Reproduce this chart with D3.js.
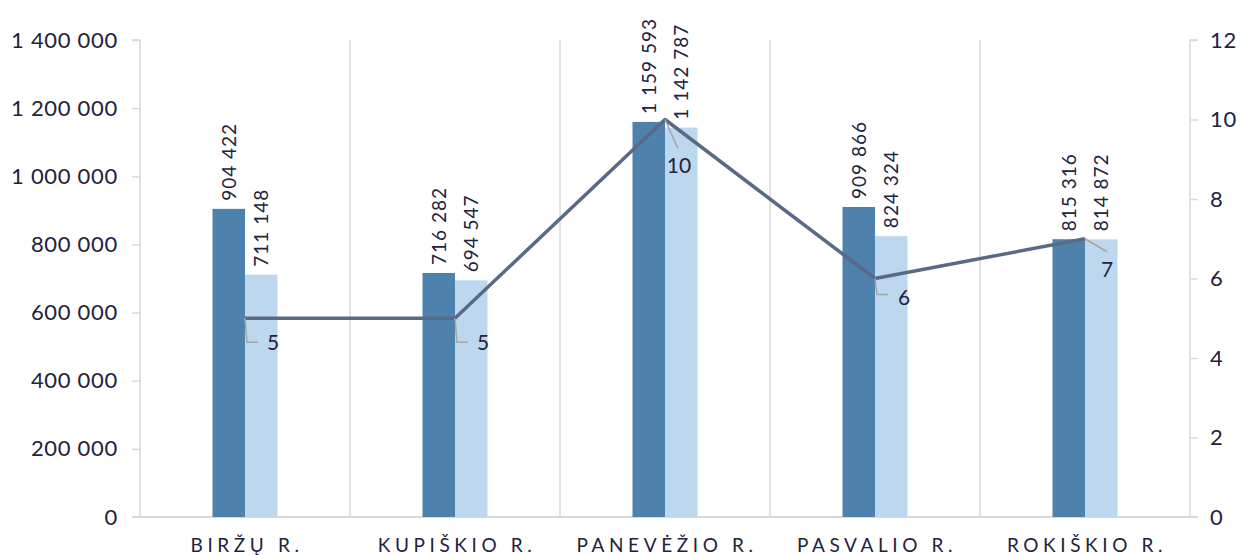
<!DOCTYPE html>
<html>
<head>
<meta charset="utf-8">
<script src="https://cdn.jsdelivr.net/npm/d3@7"></script>
<style>
  body { margin: 0; background: #fff; }
  text { font-family: Lato, "Open Sans", sans-serif; font-weight: 400; fill: #22223d; }
</style>
</head>
<body>
<svg></svg>
<script>
// data
const categories = ["BIRŽŲ R.", "KUPIŠKIO R.", "PANEVĖŽIO R.", "PASVALIO R.", "ROKIŠKIO R."];
const seriesA = [904422, 716282, 1159593, 909866, 815316];
const seriesB = [711148, 694547, 1142787, 824324, 814872];
const lineValues = [5, 5, 10, 6, 7];
const leftTicks = [0, 200000, 400000, 600000, 800000, 1000000, 1200000, 1400000];
const rightTicks = [0, 2, 4, 6, 8, 10, 12];

// placement of the line labels and their leader lines (relative to the point)
const lineLabelLayout = [
    { leader: [[0, 0], [2, 24], [13, 24]], dx: 22, dy: 24, anchor: "start" },
    { leader: [[0, 0], [2, 24], [13, 24]], dx: 22, dy: 24, anchor: "start" },
    { leader: [[0, 0], [13, 29]], dx: 14, dy: 46, anchor: "middle" },
    { leader: [[0, 0], [2, 16], [13, 16]], dx: 23, dy: 19, anchor: "start" },
    { leader: [[0, 0], [22, 13]], dx: 22, dy: 31, anchor: "middle" }
];

const width = 1243, height = 555;
const plotLeft = 140, plotRight = 1190, plotTop = 40, plotBottom = 517;

const svg = d3.select("svg")
    .attr("width", width)
    .attr("height", height);

const x0 = d3.scaleBand()
    .domain(categories)
    .range([plotLeft, plotRight]);

const x1 = d3.scaleBand()
    .domain(["a", "b"])
    .range([0, x0.bandwidth()])
    .paddingOuter(2.23);

const y = d3.scaleLinear().domain([0, 1400000]).range([plotBottom, plotTop]);
const y2 = d3.scaleLinear().domain([0, 12]).range([plotBottom, plotTop]);

const fmt = v => d3.format(",")(v).replace(/,/g, " ");

// vertical grid lines between categories
svg.append("g")
    .selectAll("line")
    .data(categories.slice(1))
    .join("line")
    .attr("x1", d => x0(d))
    .attr("x2", d => x0(d))
    .attr("y1", plotTop)
    .attr("y2", plotBottom)
    .attr("stroke", "#d9d9d9")
    .attr("stroke-width", 1.5);

// left axis
const axL = svg.append("g")
    .attr("transform", `translate(${plotLeft},0)`)
    .call(d3.axisLeft(y).tickValues(leftTicks).tickFormat(fmt).tickSize(8).tickPadding(14));
axL.select(".domain").attr("stroke", "#d9d9d9").attr("stroke-width", 1.5).attr("d", `M-8,${plotTop}H0V${plotBottom}H-8`);
axL.selectAll(".tick line").attr("stroke", "#d9d9d9").attr("stroke-width", 1.5);
axL.selectAll(".tick text")
    .style("font-size", "22px")
    .style("letter-spacing", "0.7px")
    .attr("fill", "#22223d");

// right axis
const axR = svg.append("g")
    .attr("transform", `translate(${plotRight},0)`)
    .call(d3.axisRight(y2).tickValues(rightTicks).tickSize(8).tickPadding(12));
axR.select(".domain").attr("stroke", "#d9d9d9").attr("stroke-width", 1.5).attr("d", `M8,${plotTop}H0V${plotBottom}H8`);
axR.selectAll(".tick line").attr("stroke", "#d9d9d9").attr("stroke-width", 1.5);
axR.selectAll(".tick text")
    .style("font-size", "22px")
    .style("letter-spacing", "0.7px")
    .attr("fill", "#22223d");

// bottom axis line
svg.append("line")
    .attr("x1", plotLeft - 8)
    .attr("x2", plotRight + 8)
    .attr("y1", plotBottom)
    .attr("y2", plotBottom)
    .attr("stroke", "#d9d9d9")
    .attr("stroke-width", 2);

// category labels
svg.append("g")
    .selectAll("text")
    .data(categories)
    .join("text")
    .attr("x", d => x0(d) + x0.bandwidth() / 2 + 2)
    .attr("y", 552)
    .attr("text-anchor", "middle")
    .style("font-size", "19px")
    .style("letter-spacing", "4.6px")
    .text(d => d);

// bars
const barData = [];
categories.forEach(function(c, i) {
    barData.push({ cat: c, key: "a", value: seriesA[i] });
    barData.push({ cat: c, key: "b", value: seriesB[i] });
});

svg.append("g")
    .selectAll("rect")
    .data(barData)
    .join("rect")
    .attr("x", d => x0(d.cat) + x1(d.key))
    .attr("width", x1.bandwidth())
    .attr("y", d => y(d.value))
    .attr("height", d => plotBottom - y(d.value))
    .attr("fill", d => d.key === "a" ? "#4f81ad" : "#bdd7ee");

// bar value labels, rotated
svg.append("g")
    .selectAll("text")
    .data(barData)
    .join("text")
    .attr("transform", function(d) {
        const cx = x0(d.cat) + x1(d.key) + x1.bandwidth() / 2 + 7;
        return `translate(${cx},${y(d.value) - 8}) rotate(-90)`;
    })
    .attr("text-anchor", "start")
    .style("font-size", "19px")
    .style("letter-spacing", "1px")
    .text(d => fmt(d.value));

// line series
const pts = lineValues.map((v, i) => [x0(categories[i]) + x0.bandwidth() / 2, y2(v)]);

svg.append("path")
    .datum(pts)
    .attr("d", d3.line())
    .attr("fill", "none")
    .attr("stroke", "#5a6a86")
    .attr("stroke-width", 3.5)
    .attr("stroke-linejoin", "round");

// leader lines and line labels
const lbl = svg.append("g");
pts.forEach(function(p, i) {
    const L = lineLabelLayout[i];
    lbl.append("path")
        .attr("d", d3.line()(L.leader.map(q => [p[0] + q[0], p[1] + q[1]])))
        .attr("fill", "none")
        .attr("stroke", "#a6a6a6")
        .attr("stroke-width", 1.5);
    lbl.append("text")
        .attr("x", p[0] + L.dx)
        .attr("y", p[1] + L.dy)
        .attr("dy", "0.36em")
        .attr("text-anchor", L.anchor)
        .style("font-size", "21px")
        .text(lineValues[i]);
});
</script>
</body>
</html>
